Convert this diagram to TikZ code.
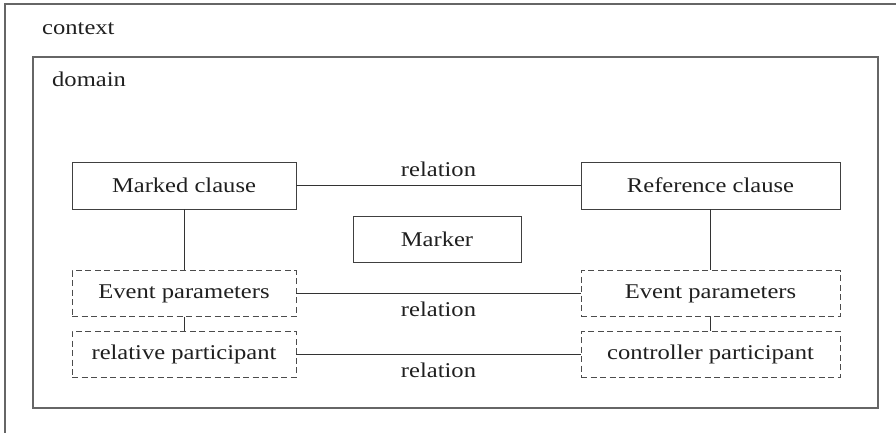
\documentclass[tikz,border=0pt]{standalone}
\usepackage{fontspec}
\setmainfont[FakeStretch=1.17]{Liberation Serif}
\begin{document}
\begin{tikzpicture}[x=1pt,y=-1pt,
  every node/.style={font=\fontsize{21}{25}\selectfont, text=black!88},
  box/.style={draw=black!75, line width=0.9pt, inner sep=0pt, minimum height=46pt},
  dbox/.style={box, dashed, dash pattern=on 6pt off 3.5pt, draw=black!70},
  conn/.style={draw=black!80, line width=0.9pt},
  lbl/.style={inner sep=0pt}]
\clip (0,0) rectangle (896,433);
\useasboundingbox (0,0) rectangle (896,433);
% outer context frame (cut off at right and bottom)
\draw[black!60, line width=1.1pt] (5,4) rectangle (910,450);
\node[lbl, anchor=base west] (ctx) at (42,35) {context};
% domain
\draw[black!60, line width=1.1pt] (33,57) rectangle (878,408);
\node[lbl, anchor=base west] (dom) at (52,87) {domain};
% nodes
\node[box, minimum width=224pt, minimum height=47pt] (mc) at (184,185.5) {Marked clause};
\node[box, minimum width=259pt, minimum height=47pt] (rc) at (710.5,185.5) {Reference clause};
\node[box, minimum width=168pt] (mk) at (437,239) {Marker};
\node[dbox, minimum width=224pt] (ep1) at (184,293.5) {Event parameters};
\node[dbox, minimum width=259pt] (ep2) at (710.5,293.5) {Event parameters};
\node[dbox, minimum width=224pt] (rp) at (184,354) {relative participant};
\node[dbox, minimum width=259pt] (cp) at (710.5,354) {controller participant};
% connectors
\draw[conn] (mc) -- node[lbl, above=8pt] {relation} (rc);
\draw[conn] (ep1) -- node[lbl, below=8pt] {relation} (ep2);
\draw[conn] (rp) -- node[lbl, below=8pt] {relation} (cp);
\draw[conn] (mc) -- (ep1);
\draw[conn] (ep1) -- (rp);
\draw[conn] (rc) -- (ep2);
\draw[conn] (ep2) -- (cp);
\end{tikzpicture}
\end{document}
